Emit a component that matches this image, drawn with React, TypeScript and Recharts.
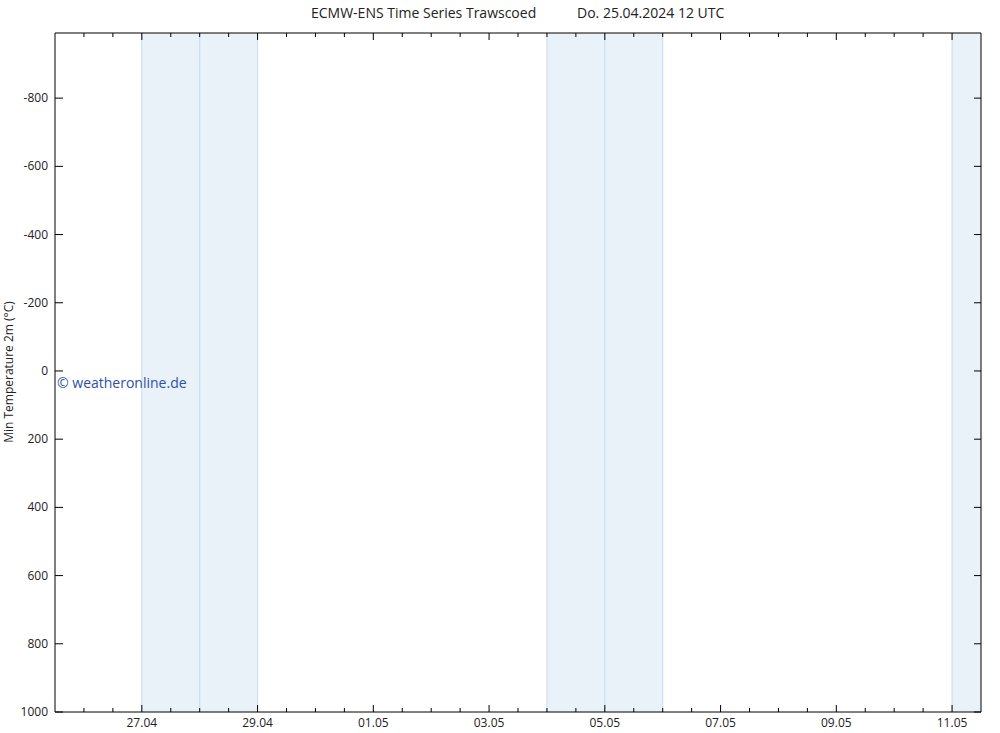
import { LineChart, Line, XAxis, YAxis, ReferenceArea, ReferenceLine } from "recharts"

// hours counted from 25.04.2024 12 UTC
const tickHours = [12, 24, 36, 48, 60, 72, 84, 96, 108, 120, 132, 144, 156, 168, 180, 192, 204, 216, 228, 240, 252, 264, 276, 288, 300, 312, 324, 336, 348, 360, 372]
const labelHours = [36, 84, 132, 180, 228, 276, 324, 372]
const tickLabels = ["27.04", "29.04", "01.05", "03.05", "05.05", "07.05", "09.05", "11.05"]
const yTicks = [-800, -600, -400, -200, 0, 200, 400, 600, 800, 1000]

const bandStarts = [36, 204, 372]
const bandEnds = [84, 252, 384]
const dayLines = [36, 60, 84, 204, 228, 252, 372]

// no forecast values present in the picture
const minTemp: (number | null)[] = [null, null]
const seriesHours = [0, 384]

const data = seriesHours.map((h, i) => ({ h, minTemp: minTemp[i] }))

const FONT = "'Open Sans', sans-serif"
const BAND = "#e9f1f9"
const BAND_LINE = "#c6dbee"

const BottomTick = (props: any) => {
  const { x, y, payload } = props
  const idx = labelHours.indexOf(payload.value)
  const major = idx >= 0
  return (
    <g>
      <line x1={x} x2={x} y1={y} y2={y - (major ? 7 : 4)} stroke="#000" />
      {major && (
        <text x={x} y={y + 15} textAnchor="middle" fontSize={12} fontFamily={FONT} fill="#222">
          {tickLabels[idx]}
        </text>
      )}
    </g>
  )
}

const TopTick = (props: any) => {
  const { x, y, payload } = props
  const major = labelHours.includes(payload.value)
  return <line x1={x} x2={x} y1={y} y2={y + (major ? 7 : 4)} stroke="#000" />
}

const LeftTick = (props: any) => {
  const { x, y, payload } = props
  return (
    <g>
      <line x1={x} x2={x + 8} y1={y} y2={y} stroke="#000" />
      <text x={x - 7} y={y + 4} textAnchor="end" fontSize={12} fontFamily={FONT} fill="#222">
        {payload.value}
      </text>
    </g>
  )
}

const RightTick = (props: any) => {
  const { x, y } = props
  return <line x1={x} x2={x - 7} y1={y} y2={y} stroke="#000" />
}

export default function App() {
  return (
    <div style={{ position: "relative", width: 1000, height: 733, background: "#fff", fontFamily: FONT }}>
      <style>{`body{margin:0}`}</style>
      <div style={{ position: "absolute", left: 311, top: 3, fontSize: 14, color: "#222", whiteSpace: "nowrap" }}>
        ECMW-ENS Time Series Trawscoed
      </div>
      <div style={{ position: "absolute", left: 577, top: 3, fontSize: 14, color: "#222", whiteSpace: "nowrap" }}>
        Do. 25.04.2024 12 UTC
      </div>
      <div
        style={{
          position: "absolute",
          left: 8,
          top: 372,
          fontSize: 12,
          color: "#222",
          whiteSpace: "nowrap",
          transform: "translate(-50%, -50%) rotate(-90deg)",
        }}
      >
        Min Temperature 2m (°C)
      </div>
      <LineChart width={1000} height={733} data={data} margin={{ top: 32, right: 18, bottom: 20, left: 54 }}>
        {bandStarts.map((s, i) => (
          <ReferenceArea
            key={"b" + i}
            xAxisId="bottom"
            yAxisId="left"
            x1={s}
            x2={bandEnds[i]}
            fill={BAND}
            fillOpacity={1}
            stroke="none"
            ifOverflow="hidden"
          />
        ))}
        {dayLines.map((d) => (
          <ReferenceLine key={"d" + d} xAxisId="bottom" yAxisId="left" x={d} stroke={BAND_LINE} strokeWidth={1} />
        ))}
        <XAxis
          xAxisId="bottom"
          dataKey="h"
          type="number"
          domain={[0, 384]}
          allowDataOverflow
          ticks={tickHours}
          interval={0}
          height={1}
          tickSize={0}
          tickMargin={0}
          tickLine={false}
          tick={<BottomTick />}
          axisLine={{ stroke: "#000" }}
        />
        <XAxis
          xAxisId="top"
          orientation="top"
          dataKey="h"
          type="number"
          domain={[0, 384]}
          allowDataOverflow
          ticks={tickHours}
          interval={0}
          height={1}
          tickSize={0}
          tickMargin={0}
          tickLine={false}
          tick={<TopTick />}
          axisLine={{ stroke: "#000" }}
        />
        <YAxis
          yAxisId="left"
          type="number"
          domain={[-991, 1000]}
          allowDataOverflow
          reversed
          ticks={yTicks}
          interval={0}
          width={1}
          tickSize={0}
          tickMargin={0}
          tickLine={false}
          tick={<LeftTick />}
          axisLine={{ stroke: "#000" }}
        />
        <YAxis
          yAxisId="right"
          orientation="right"
          type="number"
          domain={[-991, 1000]}
          allowDataOverflow
          reversed
          ticks={yTicks}
          interval={0}
          width={1}
          tickSize={0}
          tickMargin={0}
          tickLine={false}
          tick={<RightTick />}
          axisLine={{ stroke: "#000" }}
        />
        <Line
          xAxisId="bottom"
          yAxisId="left"
          dataKey="minTemp"
          stroke="#1f4fa8"
          dot={false}
          connectNulls={false}
          isAnimationActive={false}
        />
      </LineChart>
      <div style={{ position: "absolute", left: 57, top: 373, fontSize: 14, color: "#2a52a8", whiteSpace: "nowrap" }}>
        © weatheronline.de
      </div>
    </div>
  )
}
